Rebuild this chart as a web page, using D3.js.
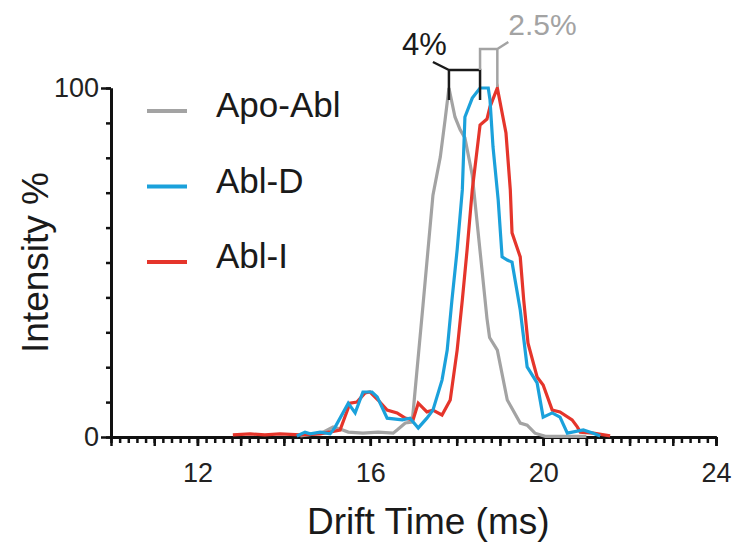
<!DOCTYPE html>
<html lang="en">
<head>
    <meta charset="UTF-8">
    <title>Drift Time</title>
    <style>
        body, html {
            margin: 0;
            padding: 0;
            background: #fff;
            font-family: "Liberation Sans", Arial, sans-serif;
        }
        #chart {
            width: 733px;
            height: 546px;
        }
    </style>
    <script src="https://cdn.jsdelivr.net/npm/d3@7"></script>
</head>
<body>
    <div id="chart"></div>
    <script>
        // series: [drift time (ms), intensity %]
        const seriesNames = ["Apo-Abl", "Abl-D", "Abl-I"];
        const apoAbl = [
            [14.38, 0.3], [14.72, 0.9], [14.91, 1.4], [15.14, 2.9], [15.30, 2.3], [15.49, 1.4],
            [15.83, 1.1], [16.18, 1.4], [16.53, 1.1], [16.62, 2.0], [16.81, 4.0], [16.97, 4.3],
            [17.22, 37.8], [17.45, 69.3], [17.62, 80.2], [17.73, 90.8], [17.82, 100], [17.96, 91.7],
            [18.08, 88.0], [18.19, 85.7], [18.36, 75.0], [18.70, 34.0], [18.76, 28.5], [18.94, 24.9],
            [19.17, 10.6], [19.47, 4.0], [19.63, 3.4], [19.81, 1.1], [20.05, 0.2], [21.0, 0.2]
        ];
        const ablD = [
            [14.30, 0.3], [14.49, 1.4], [14.61, 0.9], [14.84, 1.4], [15.07, 0.9], [15.19, 2.9],
            [15.49, 9.7], [15.65, 6.9], [15.83, 12.9], [16.04, 12.9], [16.16, 11.5], [16.39, 5.4],
            [16.74, 4.9], [16.92, 5.4], [17.11, 2.6], [17.31, 5.4], [17.45, 7.7], [17.66, 16.3],
            [17.78, 24.9], [17.89, 39.3], [18.01, 53.6], [18.13, 70.8], [18.19, 91.7], [18.36, 97.1],
            [18.54, 100], [18.73, 100], [18.77, 96.6], [18.84, 83.1], [18.96, 67.9], [19.05, 51.6],
            [19.17, 50.7], [19.28, 50.1], [19.47, 36.4], [19.63, 20.1], [19.86, 15.5], [20.00, 5.7],
            [20.21, 6.9], [20.39, 5.7], [20.56, 1.1], [20.93, 2.0], [21.16, 1.1], [21.32, 0.3]
        ];
        const ablI = [
            [12.82, 0.6], [13.22, 0.9], [13.56, 0.6], [13.91, 0.9], [14.38, 0.6], [14.84, 0.9],
            [15.30, 2.0], [15.53, 9.7], [15.69, 10.0], [15.88, 12.6], [15.99, 12.9], [16.18, 10.6],
            [16.39, 7.7], [16.62, 6.9], [16.81, 5.4], [16.99, 4.9], [17.11, 9.7], [17.31, 7.2],
            [17.45, 7.7], [17.66, 6.3], [17.85, 10.6], [18.01, 24.9], [18.13, 39.3], [18.24, 53.6],
            [18.36, 70.8], [18.54, 89.4], [18.70, 91.1], [18.77, 94.6], [18.94, 100], [19.14, 87.1],
            [19.24, 70.8], [19.28, 58.5], [19.47, 51.6], [19.55, 39.3], [19.65, 26.9], [19.86, 17.2],
            [20.00, 14.9], [20.21, 7.7], [20.39, 7.2], [20.67, 4.9], [20.79, 2.9], [20.86, 1.4],
            [21.16, 1.1], [21.55, 0.3]
        ];
        const xTickLabels = [12, 16, 20, 24];
        const yTickLabels = [0, 100];
        // peak-shift brackets: from / to drift time (ms)
        const shiftLabels = ["4%", "2.5%"];
        const shiftFrom = [17.82, 18.54];
        const shiftTo = [18.54, 18.94];

        const colors = ["#a3a3a3", "#1ba1db", "#e5352b"];
        const width = 733, height = 546;

        const svg = d3.select("#chart").append("svg")
            .attr("width", width)
            .attr("height", height);

        const x = d3.scaleLinear().domain([10, 24]).range([111, 716]);
        const y = d3.scaleLinear().domain([0, 100]).range([437, 88]);

        // x axis: minor ticks every 0.2, longer every 1, labels every 4
        const xAxis = svg.append("g").attr("transform", `translate(0,${y(0)})`);
        xAxis.append("g")
            .call(d3.axisBottom(x).tickValues(d3.range(50, 121).map(d => d / 5)).tickSize(6).tickSizeOuter(0).tickFormat(""));
        xAxis.append("g")
            .call(d3.axisBottom(x).tickValues(d3.range(10, 25)).tickSize(9).tickSizeOuter(0).tickFormat(""));
        xAxis.append("g")
            .call(d3.axisBottom(x).tickValues(xTickLabels).tickSize(9).tickSizeOuter(0).tickPadding(17).tickFormat(d3.format("d")));

        // y axis
        const yAxis = svg.append("g").attr("transform", `translate(${x(10)},0)`);
        yAxis.append("g")
            .call(d3.axisLeft(y).tickValues(d3.range(0, 101, 10)).tickSize(5).tickSizeOuter(0).tickFormat(""));
        yAxis.append("g")
            .call(d3.axisLeft(y).tickValues(yTickLabels).tickSize(10).tickSizeOuter(0).tickPadding(2).tickFormat(d3.format("d")));

        svg.selectAll(".domain").attr("stroke", "#111").attr("stroke-width", 3);
        svg.selectAll(".tick line").attr("stroke", "#111").attr("stroke-width", 2.5);
        svg.selectAll(".tick text")
            .attr("fill", "#222")
            .style("font-family", '"Liberation Sans", Arial, sans-serif')
            .style("font-size", "27px");

        // data lines
        const line = d3.line().x(d => x(d[0])).y(d => y(d[1]));
        const allSeries = [apoAbl, ablI, ablD];
        const order = [0, 2, 1];
        allSeries.forEach((s, i) => {
            svg.append("path")
                .datum(s)
                .attr("fill", "none")
                .attr("stroke", colors[order[i]])
                .attr("stroke-width", 3.2)
                .attr("stroke-linejoin", "miter")
                .attr("d", line);
        });

        // legend
        const legend = svg.append("g");
        seriesNames.forEach((name, i) => {
            const ly = 111 + i * 75.5;
            legend.append("line")
                .attr("x1", 147).attr("x2", 187)
                .attr("y1", ly).attr("y2", ly)
                .attr("stroke", colors[i])
                .attr("stroke-width", 4);
            legend.append("text")
                .attr("x", 216)
                .attr("y", ly + 6)
                .attr("fill", "#1a1a1a")
                .style("font-size", "35px")
                .text(name);
        });

        // shift brackets
        const top0 = y(100) - 18, top1 = y(100) - 39;
        const b = svg.append("g").attr("fill", "none").attr("stroke-width", 2.5);
        b.append("path")
            .attr("stroke", "#1a1a1a")
            .attr("d", `M${x(shiftFrom[0]) - 16},${top0 - 8} L${x(shiftFrom[0])},${top0}` +
                ` M${x(shiftFrom[0])},${y(100) + 12} V${top0} H${x(shiftTo[0])} V${y(100) + 12}`);
        b.append("path")
            .attr("stroke", colors[0])
            .attr("d", `M${x(shiftFrom[1])},${top0} V${top1} H${x(shiftTo[1])} V${y(100) - 1}` +
                ` M${x(shiftTo[1])},${top1} L${x(shiftTo[1]) + 11},${top1 - 7}`);
        svg.append("text")
            .attr("x", x(shiftFrom[0]) - 2)
            .attr("y", y(100) - 33)
            .attr("text-anchor", "end")
            .attr("fill", "#1a1a1a")
            .style("font-size", "31px")
            .text(shiftLabels[0]);
        svg.append("text")
            .attr("x", x(shiftTo[1]) + 11)
            .attr("y", y(100) - 53)
            .attr("fill", colors[0])
            .style("font-size", "30px")
            .text(shiftLabels[1]);

        // axis titles
        svg.append("text")
            .attr("x", 307)
            .attr("y", 534)
            .attr("fill", "#1a1a1a")
            .style("font-size", "37px")
            .text("Drift Time (ms)");
        svg.append("text")
            .attr("transform", `translate(48,${(y(0) + y(100)) / 2}) rotate(-90)`)
            .attr("text-anchor", "middle")
            .attr("fill", "#1a1a1a")
            .style("font-size", "37px")
            .text("Intensity %");
    </script>
</body>
</html>
